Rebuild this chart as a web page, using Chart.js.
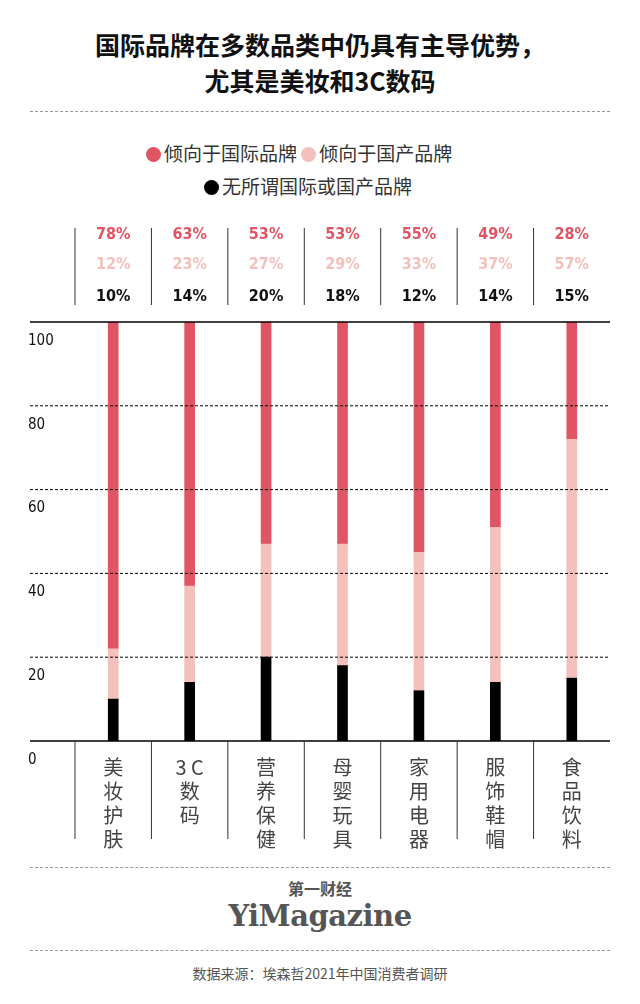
<!DOCTYPE html>
<html><head><meta charset="utf-8">
<script src="https://cdn.jsdelivr.net/npm/chart.js@4"></script>
<style>
body{margin:0;width:640px;height:1004px;background:#fff;font-family:"Noto Sans CJK SC","Noto Sans",sans-serif;position:relative;overflow:hidden}
.t{position:absolute;left:0;width:640px;text-align:center;font-weight:bold;font-size:25px;color:#111;line-height:36px;top:26px}
.hr{position:absolute;left:30px;width:580px;border-top:1.5px dashed #999}
.lg{position:absolute;font-size:19px;color:#333}
.dot{display:inline-block;width:15px;height:15px;border-radius:50%;vertical-align:-1px;margin-right:3px}
#wrap{position:absolute;left:0;top:215px;width:640px;height:640px}
</style></head><body>
<div class="t">国际品牌在多数品类中仍具有主导优势，<br>尤其是美妆和3C数码</div>
<div class="hr" style="top:111px"></div>
<div class="lg" style="left:146px;top:139px"><span class="dot" style="background:#e05563"></span>倾向于国际品牌 <span class="dot" style="background:#f4c0bb"></span>倾向于国产品牌</div>
<div class="lg" style="left:204px;top:172px"><span class="dot" style="background:#000"></span>无所谓国际或国产品牌</div>
<div id="wrap"><canvas id="c" width="640" height="640"></canvas></div>
<div class="hr" style="top:867px"></div>
<div style="position:absolute;left:0;width:640px;text-align:center;top:879px;font-size:16px;line-height:18px;font-weight:bold;color:#555">第一财经</div>
<div style="position:absolute;left:0;width:640px;text-align:center;top:899px;font-size:29px;line-height:34px;font-weight:bold;color:#555;font-family:'DejaVu Serif',serif;letter-spacing:-0.5px">YiMagazine</div>
<div class="hr" style="top:950px"></div>
<div style="position:absolute;left:0;width:640px;text-align:center;top:963px;font-size:14px;color:#555">数据来源：埃森哲2021年中国消费者调研</div>
<script>
const categories=[["美","妆","护","肤"],["3 C","数","码"],["营","养","保","健"],["母","婴","玩","具"],["家","用","电","器"],["服","饰","鞋","帽"],["食","品","饮","料"]];
const intl=[78,63,53,53,55,49,28];
const domestic=[12,23,27,29,33,37,57];
const none=[10,14,20,18,12,14,15];
const yTicks=[0,20,40,60,80,100];
const deco={id:'deco',afterDraw(ch){
 const c=ch.ctx,a=ch.chartArea,y=ch.scales.y,x=ch.scales.x;
 c.save();
 yTicks.forEach(v=>{const p=y.getPixelForValue(v);
  c.strokeStyle='#000';c.lineWidth=(v===0||v===100)?1.5:1;c.setLineDash((v===0||v===100)?[]:[3,2]);
  c.beginPath();c.moveTo(30,p);c.lineTo(a.right,p);c.stroke();
  c.fillStyle='#111';c.font='15px "Liberation Sans Narrow","DejaVu Sans Condensed",sans-serif';c.textAlign='left';c.textBaseline='middle';
  c.fillText(String(v),28,p+19);});
 c.setLineDash([]);c.lineWidth=1;c.strokeStyle='#333';
 const w=(a.right-a.left)/categories.length;
 for(let i=0;i<categories.length;i++){const bx=a.left+i*w;
  c.beginPath();c.moveTo(bx,a.top-94);c.lineTo(bx,a.top-17);c.stroke();
  c.beginPath();c.moveTo(bx,a.bottom);c.lineTo(bx,a.bottom+98);c.stroke();}
 categories.forEach((ls,i)=>{const cx=x.getPixelForValue(i);
  c.textAlign='center';c.textBaseline='middle';
  c.font='bold 16px "Liberation Sans Narrow","DejaVu Sans Condensed",sans-serif';
  c.fillStyle='#e05563';c.fillText(intl[i]+'%',cx,a.top-87);
  c.fillStyle='#f4c0bb';c.fillText(domestic[i]+'%',cx,a.top-57);
  c.fillStyle='#111';c.fillText(none[i]+'%',cx,a.top-25);
  c.font='20px "Noto Sans CJK SC"';c.fillStyle='#444';
  ls.forEach((ch2,k)=>c.fillText(ch2,cx,a.bottom+26+k*24));});
 c.restore();}};
new Chart(document.getElementById('c'),{type:'bar',
 data:{labels:categories.map(l=>l.join('')),datasets:[
  {data:none,backgroundColor:'#000'},
  {data:domestic,backgroundColor:'#f4c0bb'},
  {data:intl,backgroundColor:'#e05563'}]},
 options:{responsive:false,animation:false,maintainAspectRatio:false,
  layout:{padding:{left:75,right:30,top:107,bottom:114}},
  plugins:{legend:{display:false},tooltip:{enabled:false}},
  datasets:{bar:{barThickness:10}},
  scales:{x:{stacked:true,display:false},y:{stacked:true,min:0,max:100,display:false}}},
 plugins:[deco]});
</script></body></html>
